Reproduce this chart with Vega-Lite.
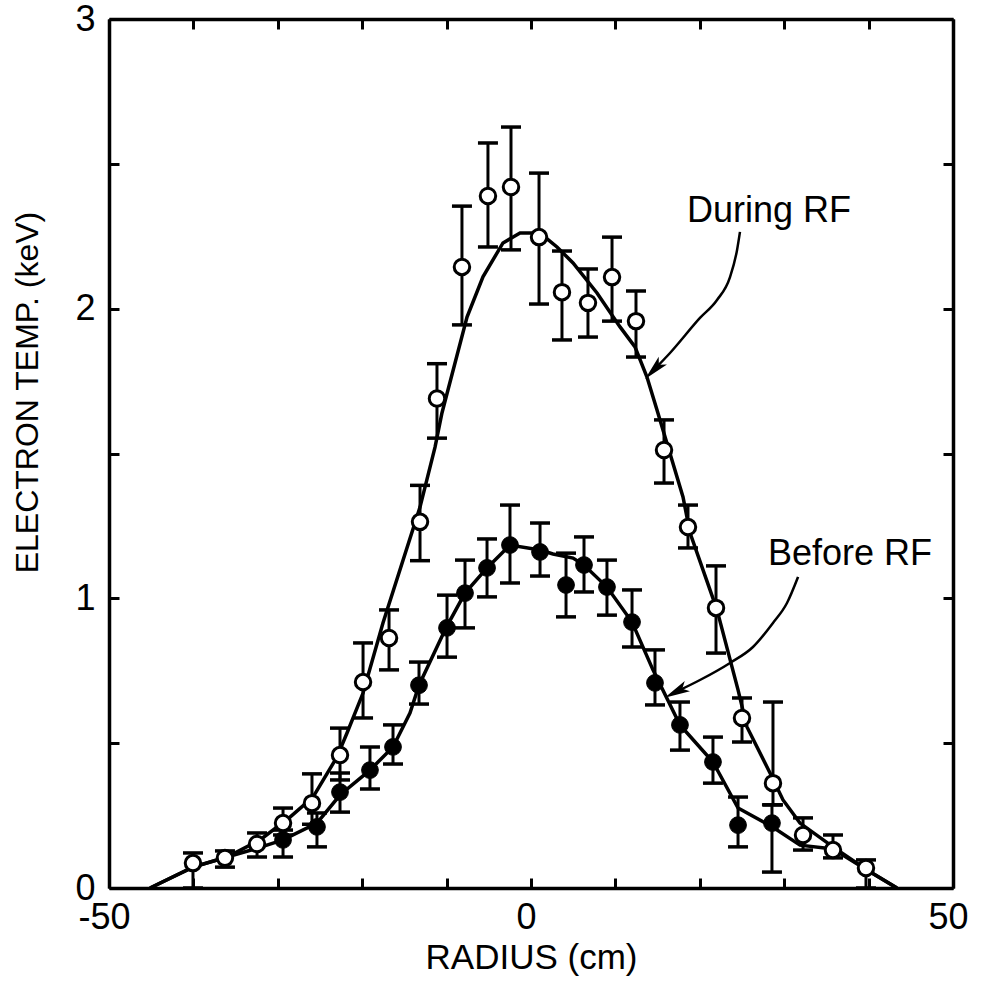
{
  "$schema": "https://vega.github.io/schema/vega-lite/v6.json",
  "autosize": "none",
  "padding": {"left": 109, "top": 19, "right": 30, "bottom": 97},
  "width": 844,
  "height": 869,
  "background": "white",
  "datasets": {
    "during": [
      {"x": -40.05, "y": 0.086, "lo": 0.0, "hi": 0.121},
      {"x": -36.26, "y": 0.104, "lo": 0.072, "hi": 0.128},
      {"x": -32.46, "y": 0.152, "lo": 0.107, "hi": 0.19},
      {"x": -29.38, "y": 0.224, "lo": 0.183, "hi": 0.276},
      {"x": -25.95, "y": 0.293, "lo": 0.22, "hi": 0.394},
      {"x": -22.63, "y": 0.459, "lo": 0.373, "hi": 0.552},
      {"x": -19.9, "y": 0.711, "lo": 0.587, "hi": 0.846},
      {"x": -16.82, "y": 0.863, "lo": 0.753, "hi": 0.96},
      {"x": -13.15, "y": 1.264, "lo": 1.13, "hi": 1.39},
      {"x": -11.14, "y": 1.69, "lo": 1.553, "hi": 1.81},
      {"x": -8.18, "y": 2.144, "lo": 1.944, "hi": 2.354},
      {"x": -5.1, "y": 2.389, "lo": 2.213, "hi": 2.572},
      {"x": -2.37, "y": 2.42, "lo": 2.203, "hi": 2.627},
      {"x": 0.95, "y": 2.247, "lo": 2.016, "hi": 2.468},
      {"x": 3.67, "y": 2.057, "lo": 1.892, "hi": 2.199},
      {"x": 6.75, "y": 2.02, "lo": 1.902, "hi": 2.137},
      {"x": 9.6, "y": 2.109, "lo": 1.957, "hi": 2.247},
      {"x": 12.44, "y": 1.957, "lo": 1.833, "hi": 2.061},
      {"x": 15.76, "y": 1.512, "lo": 1.398, "hi": 1.616},
      {"x": 18.6, "y": 1.246, "lo": 1.174, "hi": 1.322},
      {"x": 21.92, "y": 0.967, "lo": 0.811, "hi": 1.112},
      {"x": 25.0, "y": 0.587, "lo": 0.504, "hi": 0.656},
      {"x": 28.67, "y": 0.362, "lo": 0.287, "hi": 0.642},
      {"x": 32.23, "y": 0.183, "lo": 0.131, "hi": 0.242},
      {"x": 35.78, "y": 0.131, "lo": 0.104, "hi": 0.183},
      {"x": 39.69, "y": 0.069, "lo": 0.0, "hi": 0.097}
    ],
    "before": [
      {"x": -29.38, "y": 0.166, "lo": 0.107, "hi": 0.2},
      {"x": -25.36, "y": 0.211, "lo": 0.142, "hi": 0.259},
      {"x": -22.63, "y": 0.331, "lo": 0.262, "hi": 0.397},
      {"x": -19.08, "y": 0.407, "lo": 0.342, "hi": 0.487},
      {"x": -16.35, "y": 0.487, "lo": 0.428, "hi": 0.563},
      {"x": -13.27, "y": 0.7, "lo": 0.635, "hi": 0.78},
      {"x": -9.95, "y": 0.898, "lo": 0.797, "hi": 1.011},
      {"x": -7.82, "y": 1.018, "lo": 0.898, "hi": 1.132},
      {"x": -5.21, "y": 1.105, "lo": 1.005, "hi": 1.205},
      {"x": -2.49, "y": 1.184, "lo": 1.053, "hi": 1.322},
      {"x": 1.07, "y": 1.16, "lo": 1.077, "hi": 1.26},
      {"x": 4.15, "y": 1.046, "lo": 0.936, "hi": 1.156},
      {"x": 6.28, "y": 1.115, "lo": 1.022, "hi": 1.212},
      {"x": 9.0, "y": 1.039, "lo": 0.942, "hi": 1.132},
      {"x": 11.97, "y": 0.918, "lo": 0.832, "hi": 1.029},
      {"x": 14.69, "y": 0.708, "lo": 0.632, "hi": 0.822},
      {"x": 17.65, "y": 0.563, "lo": 0.476, "hi": 0.642},
      {"x": 21.56, "y": 0.435, "lo": 0.362, "hi": 0.521},
      {"x": 24.53, "y": 0.217, "lo": 0.142, "hi": 0.314},
      {"x": 28.55, "y": 0.224, "lo": 0.055, "hi": 0.287}
    ],
    "curve_during": [
      {"x": -45.14, "y": 0.0},
      {"x": -40.05, "y": 0.072},
      {"x": -36.02, "y": 0.107},
      {"x": -32.11, "y": 0.166},
      {"x": -28.55, "y": 0.245},
      {"x": -25.83, "y": 0.314},
      {"x": -22.99, "y": 0.452},
      {"x": -21.8, "y": 0.535},
      {"x": -19.9, "y": 0.673},
      {"x": -17.54, "y": 0.915},
      {"x": -13.15, "y": 1.315},
      {"x": -11.37, "y": 1.522},
      {"x": -10.55, "y": 1.64},
      {"x": -7.58, "y": 1.971},
      {"x": -5.69, "y": 2.11},
      {"x": -3.32, "y": 2.227},
      {"x": -1.3, "y": 2.261},
      {"x": 1.07, "y": 2.261},
      {"x": 3.08, "y": 2.213},
      {"x": 4.98, "y": 2.158},
      {"x": 7.82, "y": 2.054},
      {"x": 10.55, "y": 1.937},
      {"x": 12.32, "y": 1.868},
      {"x": 13.74, "y": 1.764},
      {"x": 14.93, "y": 1.65},
      {"x": 18.01, "y": 1.35},
      {"x": 18.84, "y": 1.226},
      {"x": 21.21, "y": 1.029},
      {"x": 22.04, "y": 0.96},
      {"x": 24.53, "y": 0.684},
      {"x": 25.59, "y": 0.556},
      {"x": 28.32, "y": 0.397},
      {"x": 29.86, "y": 0.304},
      {"x": 31.87, "y": 0.224},
      {"x": 35.78, "y": 0.142},
      {"x": 39.81, "y": 0.062},
      {"x": 43.36, "y": 0.0}
    ],
    "curve_before": [
      {"x": -45.14, "y": 0.0},
      {"x": -40.05, "y": 0.072},
      {"x": -36.02, "y": 0.107},
      {"x": -32.11, "y": 0.14},
      {"x": -29.38, "y": 0.166},
      {"x": -25.36, "y": 0.224},
      {"x": -22.63, "y": 0.321},
      {"x": -19.08, "y": 0.407},
      {"x": -16.35, "y": 0.487},
      {"x": -14.34, "y": 0.604},
      {"x": -13.27, "y": 0.7},
      {"x": -10.07, "y": 0.898},
      {"x": -7.82, "y": 1.018},
      {"x": -5.21, "y": 1.105},
      {"x": -2.49, "y": 1.184},
      {"x": 1.07, "y": 1.167},
      {"x": 2.61, "y": 1.153},
      {"x": 4.98, "y": 1.139},
      {"x": 6.28, "y": 1.115},
      {"x": 9.0, "y": 1.039},
      {"x": 11.97, "y": 0.918},
      {"x": 14.45, "y": 0.753},
      {"x": 17.65, "y": 0.563},
      {"x": 21.56, "y": 0.435},
      {"x": 24.53, "y": 0.276},
      {"x": 28.67, "y": 0.21},
      {"x": 31.87, "y": 0.148},
      {"x": 35.78, "y": 0.135},
      {"x": 39.81, "y": 0.062},
      {"x": 43.36, "y": 0.0}
    ],
    "arrow_during": [
      {"x": 24.76, "y": 2.265},
      {"x": 24.41, "y": 2.202},
      {"x": 23.58, "y": 2.109},
      {"x": 22.04, "y": 2.03},
      {"x": 20.02, "y": 1.968},
      {"x": 16.47, "y": 1.847},
      {"x": 14.57, "y": 1.789}
    ],
    "arrow_before": [
      {"x": 31.64, "y": 1.074},
      {"x": 30.33, "y": 0.984},
      {"x": 28.67, "y": 0.915},
      {"x": 26.3, "y": 0.832},
      {"x": 23.58, "y": 0.777},
      {"x": 20.02, "y": 0.718},
      {"x": 17.18, "y": 0.677}
    ],
    "heads": [
      {"x": 14.57, "y": 1.789, "angle": 224},
      {"x": 17.18, "y": 0.677, "angle": 243}
    ],
    "labels": [
      {"x": 18.48, "y": 2.299, "text": "During RF"},
      {"x": 28.08, "y": 1.115, "text": "Before RF"}
    ]
  },
  "layer": [
    {
      "layer": [
        {
          "data": {"name": "curve_during"},
          "mark": {"type": "line", "color": "black", "strokeWidth": 3.5},
          "encoding": {
            "x": {"field": "x", "type": "quantitative", "scale": {"domain": [-50, 50], "nice": false}, "title": "RADIUS (cm)",
              "axis": {"title": "RADIUS (cm)", "titleFontSize": 35, "orient": "bottom", "values": [-50, -40, -30, -20, -10, 0, 10, 20, 30, 40, 50], "labelExpr": "datum.value % 50 === 0 ? toString(datum.value) : ''", "tickSize": -10, "labelPadding": 22, "labelOffset": -5, "titlePadding": 5, "labelFlush": false, "labelOverlap": false}},
            "y": {"field": "y", "type": "quantitative", "scale": {"domain": [0, 3], "nice": false}, "title": "ELECTRON TEMP. (keV)",
              "axis": {"title": "ELECTRON TEMP. (keV)", "orient": "left", "values": [0, 0.5, 1, 1.5, 2, 2.5, 3], "labelExpr": "datum.value % 1 === 0 ? toString(datum.value) : ''", "tickSize": -10, "labelPadding": 24, "titlePadding": 30, "titleY": 373, "labelFlush": false, "labelOverlap": false}}
          }
        },
        {
          "data": {"name": "curve_before"},
          "mark": {"type": "line", "color": "black", "strokeWidth": 3.5},
          "encoding": {
            "x": {"field": "x", "type": "quantitative", "title": "RADIUS (cm)"},
            "y": {"field": "y", "type": "quantitative", "title": "ELECTRON TEMP. (keV)"}
          }
        },
        {
          "data": {"name": "arrow_during"},
          "mark": {"type": "line", "color": "black", "strokeWidth": 2.5, "interpolate": "monotone"},
          "encoding": {
            "x": {"field": "x", "type": "quantitative", "title": "RADIUS (cm)"},
            "y": {"field": "y", "type": "quantitative", "title": "ELECTRON TEMP. (keV)"}
          }
        },
        {
          "data": {"name": "arrow_before"},
          "mark": {"type": "line", "color": "black", "strokeWidth": 2.5, "interpolate": "monotone"},
          "encoding": {
            "x": {"field": "x", "type": "quantitative", "title": "RADIUS (cm)"},
            "y": {"field": "y", "type": "quantitative", "title": "ELECTRON TEMP. (keV)"}
          }
        },
        {
          "data": {"name": "heads"},
          "mark": {"type": "point", "shape": "M0,-1L0.45,1L0,0.55L-0.45,1Z", "filled": true, "color": "black", "size": 650, "opacity": 1},
          "encoding": {
            "x": {"field": "x", "type": "quantitative", "title": "RADIUS (cm)"},
            "y": {"field": "y", "type": "quantitative", "title": "ELECTRON TEMP. (keV)"},
            "angle": {"field": "angle", "type": "quantitative", "scale": null}
          }
        },
        {
          "data": {"name": "during"},
          "mark": {"type": "errorbar", "color": "black", "ticks": {"size": 20, "thickness": 3.5, "color": "black", "opacity": 1}, "rule": {"strokeWidth": 3, "color": "black", "opacity": 1}},
          "encoding": {
            "x": {"field": "x", "type": "quantitative", "title": "RADIUS (cm)"},
            "y": {"field": "lo", "type": "quantitative", "title": "ELECTRON TEMP. (keV)"},
            "y2": {"field": "hi"}
          }
        },
        {
          "data": {"name": "before"},
          "mark": {"type": "errorbar", "color": "black", "ticks": {"size": 20, "thickness": 3.5, "color": "black", "opacity": 1}, "rule": {"strokeWidth": 3, "color": "black", "opacity": 1}},
          "encoding": {
            "x": {"field": "x", "type": "quantitative", "title": "RADIUS (cm)"},
            "y": {"field": "lo", "type": "quantitative", "title": "ELECTRON TEMP. (keV)"},
            "y2": {"field": "hi"}
          }
        },
        {
          "data": {"name": "during"},
          "mark": {"type": "point", "shape": "circle", "filled": true, "fill": "white", "stroke": "black", "strokeWidth": 3, "size": 240, "opacity": 1},
          "encoding": {
            "x": {"field": "x", "type": "quantitative", "title": "RADIUS (cm)"},
            "y": {"field": "y", "type": "quantitative", "title": "ELECTRON TEMP. (keV)"}
          }
        },
        {
          "data": {"name": "before"},
          "mark": {"type": "point", "shape": "circle", "filled": true, "fill": "black", "stroke": "black", "strokeWidth": 1, "size": 280, "opacity": 1},
          "encoding": {
            "x": {"field": "x", "type": "quantitative", "title": "RADIUS (cm)"},
            "y": {"field": "y", "type": "quantitative", "title": "ELECTRON TEMP. (keV)"}
          }
        },
        {
          "data": {"name": "labels"},
          "mark": {"type": "text", "align": "left", "baseline": "alphabetic", "font": "Liberation Sans", "fontSize": 36, "color": "black"},
          "encoding": {
            "x": {"field": "x", "type": "quantitative", "title": "RADIUS (cm)"},
            "y": {"field": "y", "type": "quantitative", "title": "ELECTRON TEMP. (keV)"},
            "text": {"field": "text"}
          }
        }
      ]
    },
    {
      "data": {"name": "labels"},
      "mark": {"type": "point", "opacity": 0},
      "encoding": {
        "x": {"field": "x", "type": "quantitative", "title": null,
          "axis": {"orient": "top", "title": null, "values": [-50, -40, -30, -20, -10, 0, 10, 20, 30, 40, 50], "labels": false, "tickSize": -10}},
        "y": {"field": "y", "type": "quantitative", "title": null,
          "axis": {"orient": "right", "title": null, "values": [0, 0.5, 1, 1.5, 2, 2.5, 3], "labels": false, "tickSize": -10}}
      }
    }
  ],
  "resolve": {"axis": {"x": "independent", "y": "independent"}},
  "config": {
    "view": {"stroke": null},
    "axis": {
      "grid": false,
      "domainColor": "black",
      "domainWidth": 3.5,
      "tickColor": "black",
      "tickWidth": 3,
      "labelFont": "Liberation Sans",
      "labelFontSize": 36,
      "labelColor": "black",
      "titleFont": "Liberation Sans",
      "titleFontSize": 32,
      "titleFontWeight": "normal",
      "titleColor": "black"
    }
  }
}
